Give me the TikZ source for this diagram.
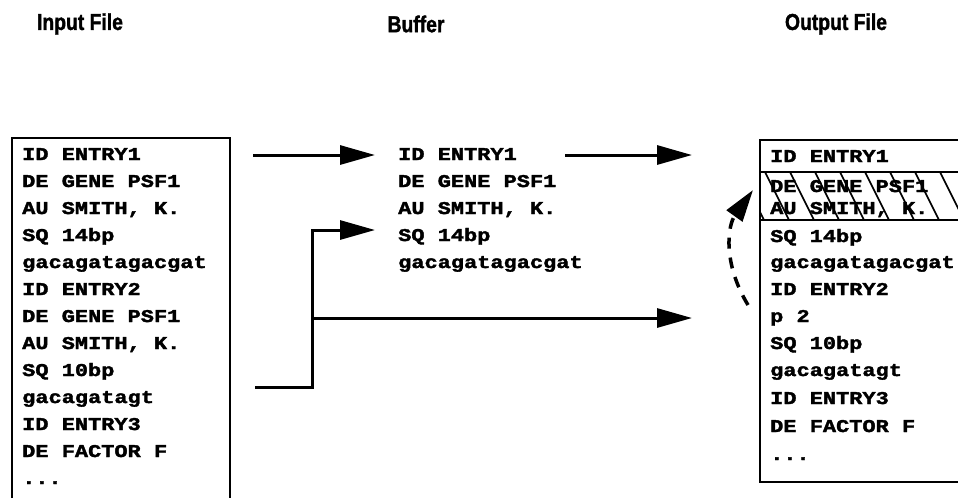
\documentclass[tikz,border=0pt]{standalone}
\usepackage{fontspec}
\setmainfont{Liberation Sans}
\newfontfamily\titlefont[FakeStretch=0.84,BoldFeatures={FakeBold=1.5}]{Liberation Sans}
\newfontfamily\codefont[FakeStretch=1.22,BoldFeatures={FakeBold=2}]{Liberation Mono}
\usetikzlibrary{arrows.meta}
\begin{document}
\begin{tikzpicture}[x=1pt,y=-1pt,
  title/.style={font=\titlefont\bfseries\fontsize{23}{23}\selectfont, inner sep=0, anchor=center},
  code/.style={font=\codefont\bfseries\fontsize{18}{18}\selectfont, inner sep=0, anchor=base west},
  frame/.style={line width=2.4pt},
  flow/.style={line width=3pt, -{Triangle[length=35pt,width=19pt]}},
  dflow/.style={line width=3.5pt, dash pattern=on 11pt off 9pt, -{Triangle[length=32pt,width=19pt]}},
  hatch/.style={line width=1.6pt}]
\useasboundingbox (0,0) rectangle (958,498);

% titles
\node[title] (tin) at (80,24) {Input File};
\node[title] (tbuf) at (416,24) {Buffer};
\node[title] (tout) at (836,24) {Output File};

% input file
\draw[frame] (12,498) -- (12,138) -- (230,138) -- (230,498);
\node[code] (in1) at (22,160) {ID ENTRY1};
\node[code] (in2) at (22,187) {DE GENE PSF1};
\node[code] (in3) at (22,214) {AU SMITH, K.};
\node[code] (in4) at (22,241) {SQ 14bp};
\node[code] (in5) at (22,268) {gacagatagacgat};
\node[code] (in6) at (22,295) {ID ENTRY2};
\node[code] (in7) at (22,322) {DE GENE PSF1};
\node[code] (in8) at (22,349) {AU SMITH, K.};
\node[code] (in9) at (22,376) {SQ 10bp};
\node[code] (in10) at (22,403) {gacagatagt};
\node[code] (in11) at (22,430) {ID ENTRY3};
\node[code] (in12) at (22,457) {DE FACTOR F};
\node[code] (in13) at (22,484) {...};

% buffer
\node[code] (bf1) at (398,160) {ID ENTRY1};
\node[code] (bf2) at (398,187) {DE GENE PSF1};
\node[code] (bf3) at (398,214) {AU SMITH, K.};
\node[code] (bf4) at (398,241) {SQ 14bp};
\node[code] (bf5) at (398,268) {gacagatagacgat};

% output file
\begin{scope}
  \clip (760,172) rectangle (958,220);
  \foreach \x in {690,715,...,990} \draw[hatch] (\x,172) -- (\x+24,220);
\end{scope}
\draw[frame] (958,140) -- (760,140) -- (760,482) -- (958,482);
\draw[frame] (760,172) -- (958,172);
\draw[frame] (760,220) -- (958,220);
\node[code] (out1) at (770,162) {ID ENTRY1};
\node[code] (out2) at (770,192) {DE GENE PSF1};
\node[code] (out3) at (770,214) {AU SMITH, K.};
\node[code] (out4) at (770,242) {SQ 14bp};
\node[code] (out5) at (770,268) {gacagatagacgat};
\node[code] (out6) at (770,295) {ID ENTRY2};
\node[code] (out7) at (770,322) {p 2};
\node[code] (out8) at (770,349) {SQ 10bp};
\node[code] (out9) at (770,376) {gacagatagt};
\node[code] (out10) at (770,404) {ID ENTRY3};
\node[code] (out11) at (770,432) {DE FACTOR F};
\node[code] (out12) at (770,460) {...};

% connectors
\coordinate (a1s) at (253,155);
\coordinate (a1e) at (375,155);
\coordinate (a2s) at (565,155);
\coordinate (a2e) at (692,155);
\coordinate (b0) at (255,387);
\coordinate (b2) at (312,230);
\coordinate (b3) at (375,230);
\coordinate (c1) at (312,318);
\coordinate (c2) at (692,318);
\coordinate (d0) at (748,305);
\coordinate (d1) at (753,190);

\draw[flow] (a1s) -- (a1e);
\draw[flow] (a2s) -- (a2e);
\draw[flow] (b0) -| (b2) -- (b3);
\draw[flow] (c1) -- (c2);
\draw[dflow] (d0) .. controls (722,262) and (728,225) .. (d1);
\end{tikzpicture}
\end{document}
